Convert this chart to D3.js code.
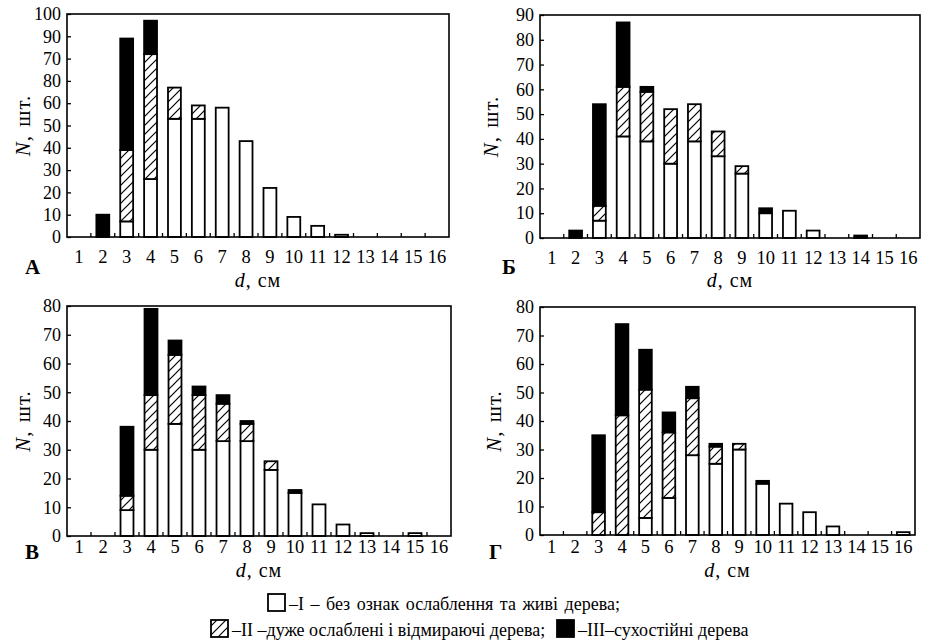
<!DOCTYPE html>
<html>
<head>
<meta charset="utf-8">
<script src="https://cdn.jsdelivr.net/npm/d3@7"></script>
<style>
  body { margin: 0; background: #fff; }
  text { font-family: "Liberation Serif", "Times New Roman", serif; fill: #000; }
</style>
</head>
<body>
<svg id="chart"></svg>
<script>
// diameter classes, cm
const diameters = [1,2,3,4,5,6,7,8,9,10,11,12,13,14,15,16];

// panel А
const liveA = [0,0,7,26,53,53,58,43,22,9,5,1,0,0,0,0];
const weakA = [0,0,32,56,14,6,0,0,0,0,0,0,0,0,0,0];
const deadA = [0,10,50,15,0,0,0,0,0,0,0,0,0,0,0,0];
const yLabelsA = ["0","10","20","30","40","50","60","80","70","90","100"]; // as printed

// panel Б
const liveB = [0,0,7,41,39,30,39,33,26,10,11,3,0,0,0,0];
const weakB = [0,0,6,20,20,22,15,10,3,0,0,0,0,0,0,0];
const deadB = [0,3,41,26,2,0,0,0,0,2,0,0,0,1,0,0];
const yLabelsB = ["0","10","20","30","40","50","60","70","80","90"];

// panel В
const liveV = [0,0,9,30,39,30,33,33,23,15,11,4,1,0,1,0];
const weakV = [0,0,5,19,24,19,13,6,3,0,0,0,0,0,0,0];
const deadV = [0,0,24,30,5,3,3,1,0,1,0,0,0,0,0,0];
const yLabelsV = ["0","10","20","30","40","50","60","70","80"];

// panel Г
const liveG = [0,0,0,0,6,13,28,25,30,18,11,8,3,0,0,1];
const weakG = [0,0,8,42,45,23,20,6,2,0,0,0,0,0,0,0];
const deadG = [0,0,27,32,14,7,4,1,0,1,0,0,0,0,0,0];
const yLabelsG = ["0","10","20","30","40","50","60","70","80"];

const legendItems = [
  {key: "live", text: "–I – без ознак ослаблення та живі дерева;"},
  {key: "weak", text: "–II –дуже ослаблені і відмираючі дерева;"},
  {key: "dead", text: "–III–сухостійні дерева"}
];

var width = 926, height = 644;
var svg = d3.select("#chart").attr("width", width).attr("height", height);

// hatch for class II
svg.append("defs").append("pattern")
    .attr("id", "hatch")
    .attr("patternUnits", "userSpaceOnUse")
    .attr("width", 9).attr("height", 9)
  .call(p => {
    p.append("rect").attr("width", 9).attr("height", 9).attr("fill", "#fff");
    p.append("path").attr("d", "M-1,10 L10,-1 M-2,2 L2,-2 M7,11 L11,7")
      .attr("stroke", "#000").attr("stroke-width", 1.2);
  });

const fills = {live: "#fff", weak: "url(#hatch)", dead: "#000"};

const panels = [
  {letter: "А", live: liveA, weak: weakA, dead: deadA, labels: yLabelsA,
   l: 67, r: 449, t: 14, b: 237, tickY: 263, titleY: 287, letterX: 25, letterY: 274, nX: 30},
  {letter: "Б", live: liveB, weak: weakB, dead: deadB, labels: yLabelsB,
   l: 540, r: 920, t: 15, b: 238, tickY: 264, titleY: 287, letterX: 502, letterY: 274, nX: 498},
  {letter: "В", live: liveV, weak: weakV, dead: deadV, labels: yLabelsV,
   l: 67, r: 451, t: 306, b: 536, tickY: 553, titleY: 577, letterX: 25, letterY: 559, nX: 30},
  {letter: "Г", live: liveG, weak: weakG, dead: deadG, labels: yLabelsG,
   l: 540, r: 915, t: 307, b: 535, tickY: 553, titleY: 577, letterX: 489, letterY: 559, nX: 501}
];

function drawPanel(p) {
  const g = svg.append("g").attr("class", "panel");
  const ymax = (p.labels.length - 1) * 10;

  const x = d3.scaleBand().domain(diameters).range([p.l, p.r]);
  const y = d3.scaleLinear().domain([0, ymax]).range([p.b, p.t]);

  const rows = diameters.map((d, i) => ({d: d, live: p.live[i], weak: p.weak[i], dead: p.dead[i]}));
  const series = d3.stack().keys(["live", "weak", "dead"])(rows);
  const bw = x.bandwidth() * 0.54;

  g.selectAll(".layer")
    .data(series)
    .join("g")
      .attr("class", "layer")
      .attr("fill", s => fills[s.key])
    .selectAll("rect")
    .data(s => s.filter(v => v[1] - v[0] > 0))
    .join("rect")
      .attr("x", v => x(v.data.d) + (x.bandwidth() - bw) / 2)
      .attr("width", bw)
      .attr("y", v => y(v[1]))
      .attr("height", v => y(v[0]) - y(v[1]))
      .attr("stroke", "#000")
      .attr("stroke-width", 1.8);

  // y axis, ticks inward
  const yAxis = d3.axisLeft(y)
    .tickValues(d3.range(0, ymax + 1, 10))
    .tickSize(-4).tickPadding(6)
    .tickFormat((v, i) => p.labels[i]);
  g.append("g").attr("transform", `translate(${p.l},0)`).call(yAxis)
    .call(a => a.select(".domain").remove())
    .call(a => a.selectAll("line").attr("stroke-width", 1.3))
    .call(a => a.selectAll("text").attr("font-size", 18).attr("font-family", "Liberation Serif"));

  // x labels at band centres
  const xAxis = d3.axisBottom(x).tickSize(0).tickPadding(0);
  g.append("g").attr("transform", `translate(0,${p.b})`).call(xAxis)
    .call(a => a.select(".domain").remove())
    .call(a => a.selectAll("text")
        .attr("dy", null).attr("y", p.tickY - p.b)
        .attr("font-size", 18.5).attr("font-family", "Liberation Serif"));

  // x ticks at band boundaries, inward
  g.append("g").selectAll("line")
    .data(diameters.slice(1))
    .join("line")
      .attr("x1", d => x(d)).attr("x2", d => x(d))
      .attr("y1", p.b).attr("y2", p.b - 4)
      .attr("stroke", "#000").attr("stroke-width", 1.3);

  // frame
  g.append("rect")
    .attr("x", p.l).attr("y", p.t)
    .attr("width", p.r - p.l).attr("height", p.b - p.t)
    .attr("fill", "none").attr("stroke", "#000").attr("stroke-width", 1.6);

  // axis titles
  const xt = g.append("text")
    .attr("x", (p.l + p.r) / 2).attr("y", p.titleY)
    .attr("text-anchor", "middle").attr("font-size", 20)
    .attr("letter-spacing", 1);
  xt.append("tspan").attr("font-style", "italic").text("d");
  xt.append("tspan").text(", см");

  const yt = g.append("text")
    .attr("transform", `translate(${p.nX},${(p.t + p.b) / 2}) rotate(-90)`)
    .attr("text-anchor", "middle").attr("font-size", 21)
    .attr("letter-spacing", 1).attr("word-spacing", 2);
  yt.append("tspan").attr("font-style", "italic").text("N");
  yt.append("tspan").text(", шт.");

  g.append("text")
    .attr("x", p.letterX).attr("y", p.letterY)
    .attr("font-size", 21).attr("font-weight", "bold")
    .text(p.letter);
}

panels.forEach(drawPanel);

// legend
const legend = svg.append("g").attr("class", "legend");
const legendPos = [
  {x: 268, y: 594, ws: 2},
  {x: 211, y: 620, ws: 0},
  {x: 557, y: 620, ws: 0}
];
legendItems.forEach((item, i) => {
  const pos = legendPos[i];
  legend.append("rect")
    .attr("x", pos.x).attr("y", pos.y)
    .attr("width", 17).attr("height", 17)
    .attr("fill", fills[item.key])
    .attr("stroke", "#000").attr("stroke-width", 1.8);
  legend.append("text")
    .attr("x", pos.x + 21).attr("y", pos.y + 16)
    .attr("font-size", 18)
    .attr("word-spacing", pos.ws)
    .text(item.text);
});
</script>
</body>
</html>
